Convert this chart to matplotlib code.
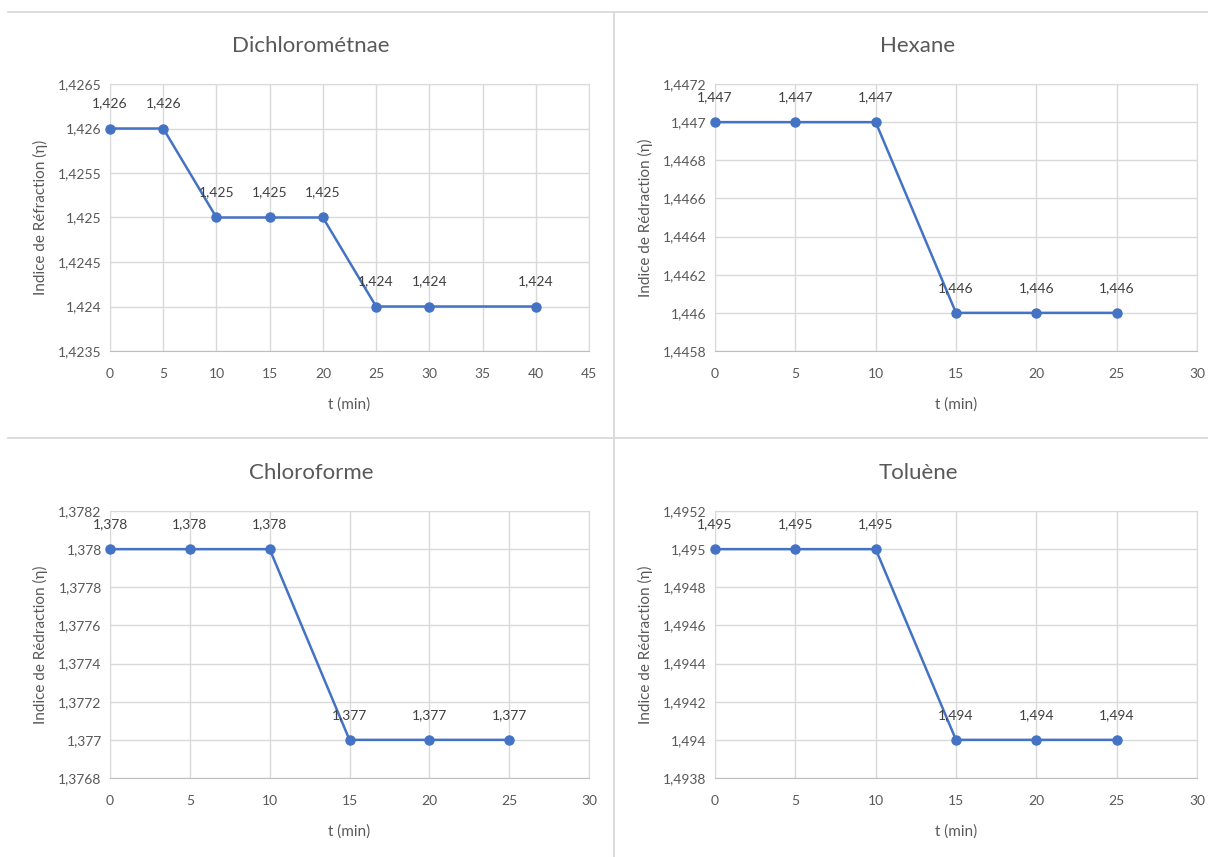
"""
Indice de réfraction vs temps pour quatre solvants (grille 2x2, style tableur).
"""
import matplotlib
matplotlib.use("Agg")
import matplotlib.pyplot as plt
from matplotlib.lines import Line2D
from matplotlib.ticker import FuncFormatter, MultipleLocator

plt.rcParams.update({
    "font.family": ["Lato", "DejaVu Sans"],
    "font.size": 10,
})

W, H = 1208, 857
LINE_C = "#4472C4"
GRID_C = "#d9d9d9"
TXT_C = "#595959"
LAB_C = "#404040"

# --- data ---
t_dcm = [0, 5, 10, 15, 20, 25, 30, 40]
n_dcm = [1.426, 1.426, 1.425, 1.425, 1.425, 1.424, 1.424, 1.424]

t_hex = [0, 5, 10, 15, 20, 25]
n_hex = [1.447, 1.447, 1.447, 1.446, 1.446, 1.446]

t_chl = [0, 5, 10, 15, 20, 25]
n_chl = [1.378, 1.378, 1.378, 1.377, 1.377, 1.377]

t_tol = [0, 5, 10, 15, 20, 25]
n_tol = [1.495, 1.495, 1.495, 1.494, 1.494, 1.494]

panels = [
    # title, t, n, plot box (px), block centre x (px), xmax, ylim, ystep, ylabel
    ("Dichlorométnae", t_dcm, n_dcm, (110, 84, 589, 351), 311, 45,
     (1.4235, 1.4265), 0.0005, "Indice de Réfraction (η)"),
    ("Hexane", t_hex, n_hex, (715, 84, 1197, 351), 918, 30,
     (1.4458, 1.4472), 0.0002, "Indice de Rédraction (η)"),
    ("Chloroforme", t_chl, n_chl, (110, 511, 589, 778), 311, 30,
     (1.3768, 1.3782), 0.0002, "Indice de Rédraction (η)"),
    ("Toluène", t_tol, n_tol, (715, 511, 1197, 778), 918, 30,
     (1.4938, 1.4952), 0.0002, "Indice de Rédraction (η)"),
]


def comma(v, _pos=None):
    s = f"{v:.4f}".rstrip("0").rstrip(".")
    return s.replace(".", ",")


fig = plt.figure(figsize=(W / 100, H / 100), dpi=100)

# separators between the four chart blocks
for (x0, y0, x1, y1) in [(8, 12, W, 12), (8, 438, W, 438), (614, 12, 614, H)]:
    fig.add_artist(Line2D([x0 / W, x1 / W], [1 - y0 / H, 1 - y1 / H],
                          transform=fig.transFigure, color=GRID_C, lw=1.3))

for title, t, n, (x0, y0, x1, y1), tx, xmax, ylim, ystep, ylabel in panels:
    ax = fig.add_axes([x0 / W, 1 - y1 / H, (x1 - x0) / W, (y1 - y0) / H])
    ax.plot(t, n, color=LINE_C, lw=1.8, marker="o", ms=6.5, zorder=3,
            clip_on=False)
    for xi, yi in zip(t, n):
        ax.annotate(f"{yi:.3f}".replace(".", ","), (xi, yi),
                    textcoords="offset points", xytext=(0, 18),
                    ha="center", va="center", color=LAB_C, fontsize=10)

    ax.set_xlim(0, xmax)
    ax.set_ylim(*ylim)
    ax.xaxis.set_major_locator(MultipleLocator(5))
    ax.yaxis.set_major_locator(MultipleLocator(ystep))
    ax.yaxis.set_major_formatter(FuncFormatter(comma))
    ax.grid(True, color=GRID_C, lw=1.0)
    ax.set_axisbelow(True)
    for side in ["top", "right", "left"]:
        ax.spines[side].set_color(GRID_C)
    ax.spines["bottom"].set_color("#bfbfbf")
    ax.tick_params(length=0, colors=TXT_C, labelsize=10)
    ax.tick_params(axis="x", pad=12)
    ax.tick_params(axis="y", pad=6)

    cx = (x0 + x1) / 2 / W
    fig.text(tx / W, 1 - (y0 - 38) / H, title, ha="center", va="center",
             color=TXT_C, fontsize=16)
    fig.text(cx, 1 - (y1 + 54) / H, "t (min)", ha="center", va="center",
             color=TXT_C, fontsize=11)
    fig.text((x0 - 70) / W, 1 - (y0 + y1) / 2 / H, ylabel, rotation=90,
             ha="center", va="center", color=TXT_C, fontsize=11)

fig.savefig("out.png", dpi=100, facecolor="white")
